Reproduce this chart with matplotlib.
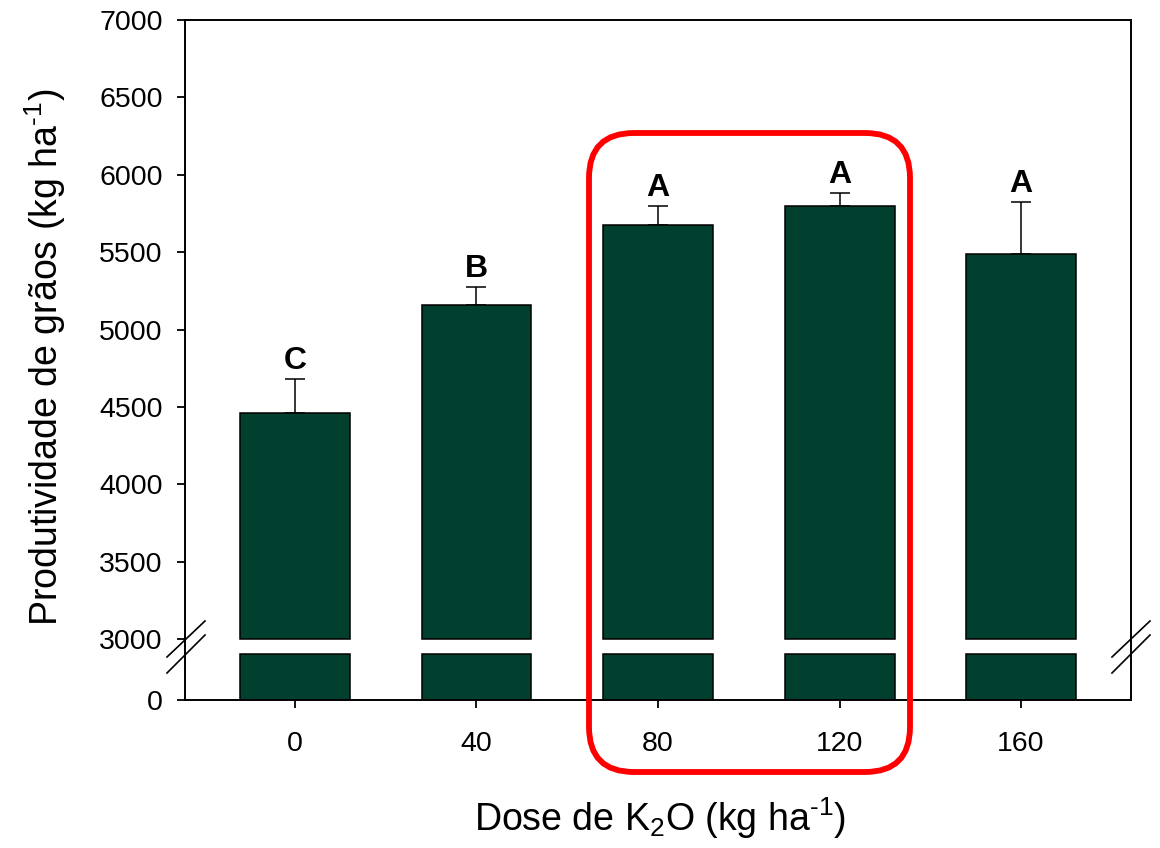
import numpy as np
import matplotlib
matplotlib.use('Agg')
import matplotlib.pyplot as plt
from matplotlib.lines import Line2D
from matplotlib.patches import FancyBboxPatch

plt.rcParams['font.family'] = ['Liberation Sans', 'DejaVu Sans']
plt.rcParams['mathtext.fontset'] = 'custom'
plt.rcParams['mathtext.rm'] = 'Liberation Sans'
plt.rcParams['mathtext.it'] = 'Liberation Sans:italic'
plt.rcParams['mathtext.default'] = 'regular'

# data
doses = ['0', '40', '80', '120', '160']
yields = [4460, 5160, 5675, 5795, 5490]
errors = [220, 115, 125, 90, 335]
letters = ['C', 'B', 'A', 'A', 'A']
yticks_top = [3000, 3500, 4000, 4500, 5000, 5500, 6000, 6500, 7000]

bar_color = '#01402F'
W, H = 1160, 848

fig = plt.figure(figsize=(W / 100, H / 100), dpi=100)
left = 185 / W
width = (1131 - 185) / W
ax_top = fig.add_axes([left, (H - 646) / H, width, (646 - 20) / H])
ax_bot = fig.add_axes([left, (H - 700) / H, width, 54 / H])

x = np.arange(len(doses))
bw = 0.606

# upper part: 3000 -> value
ax_top.bar(x, np.array(yields) - 3000, bottom=3000, width=bw, color=bar_color,
           edgecolor='black', linewidth=1.1, zorder=2)
ax_top.errorbar(x, yields, yerr=[np.zeros(len(x)), errors], fmt='none',
                ecolor='black', elinewidth=1.1, capsize=7, capthick=1.1, zorder=1)
for xi, yi, ei, lt in zip(x, yields, errors, letters):
    ax_top.annotate(lt, (xi, yi + ei), xytext=(0, 7), textcoords='offset points',
                    ha='center', va='baseline', fontsize=23, fontweight='bold')

# lower part: 0 -> 3000
ax_bot.bar(x, np.minimum(yields, 3000), width=bw, color=bar_color,
           edgecolor='black', linewidth=1.1, zorder=2)

ax_top.set_xlim(-0.606, 4.606)
ax_bot.set_xlim(-0.606, 4.606)
ax_top.set_ylim(3000 - 7 * 4000 / 619, 7000)
ax_bot.set_ylim(0, 3000 * 54 / 46)

ax_top.set_yticks(yticks_top)
ax_top.set_xticks([])
ax_bot.set_yticks([0])
ax_bot.set_xticks(x)
ax_bot.set_xticklabels(doses)

for ax in (ax_top, ax_bot):
    for s in ax.spines.values():
        s.set_linewidth(1.4)
    ax.tick_params(axis='both', direction='out', length=6, width=1.3,
                   labelsize=20.5, pad=10)
ax_top.spines['bottom'].set_visible(False)
ax_bot.spines['top'].set_visible(False)
ax_bot.tick_params(axis='x', pad=16)

# axis break marks
for xs in ((167, 205), (1112, 1150)):
    for y0, y1 in ((657, 621), (673, 635)):
        fig.add_artist(Line2D([xs[0] / W, xs[1] / W], [(H - y0) / H, (H - y1) / H],
                              transform=fig.transFigure, color='black', lw=1.2))

# labels
fig.text(660 / W, (H - 818) / H, 'Dose de K$_2$O (kg ha$^{\u2010 1}$)',
         ha='center', va='center', fontsize=27)
fig.text(45 / W, (H - 357) / H, 'Produtividade de grãos (kg ha$^{\u2010 1}$)',
         ha='center', va='center', rotation=90, fontsize=27)

# red highlight box
bx0, by0, bx1, by1 = 589, 133, 910, 772
box = FancyBboxPatch((bx0 / W, (H - by1) / H), (bx1 - bx0) / W, (by1 - by0) / H,
                     boxstyle='round,pad=0,rounding_size=%f' % (45 / W),
                     mutation_aspect=W / H, transform=fig.transFigure,
                     fill=False, edgecolor='#FF0000', linewidth=4.2, zorder=10)
fig.add_artist(box)

fig.savefig('out.png', dpi=100)
